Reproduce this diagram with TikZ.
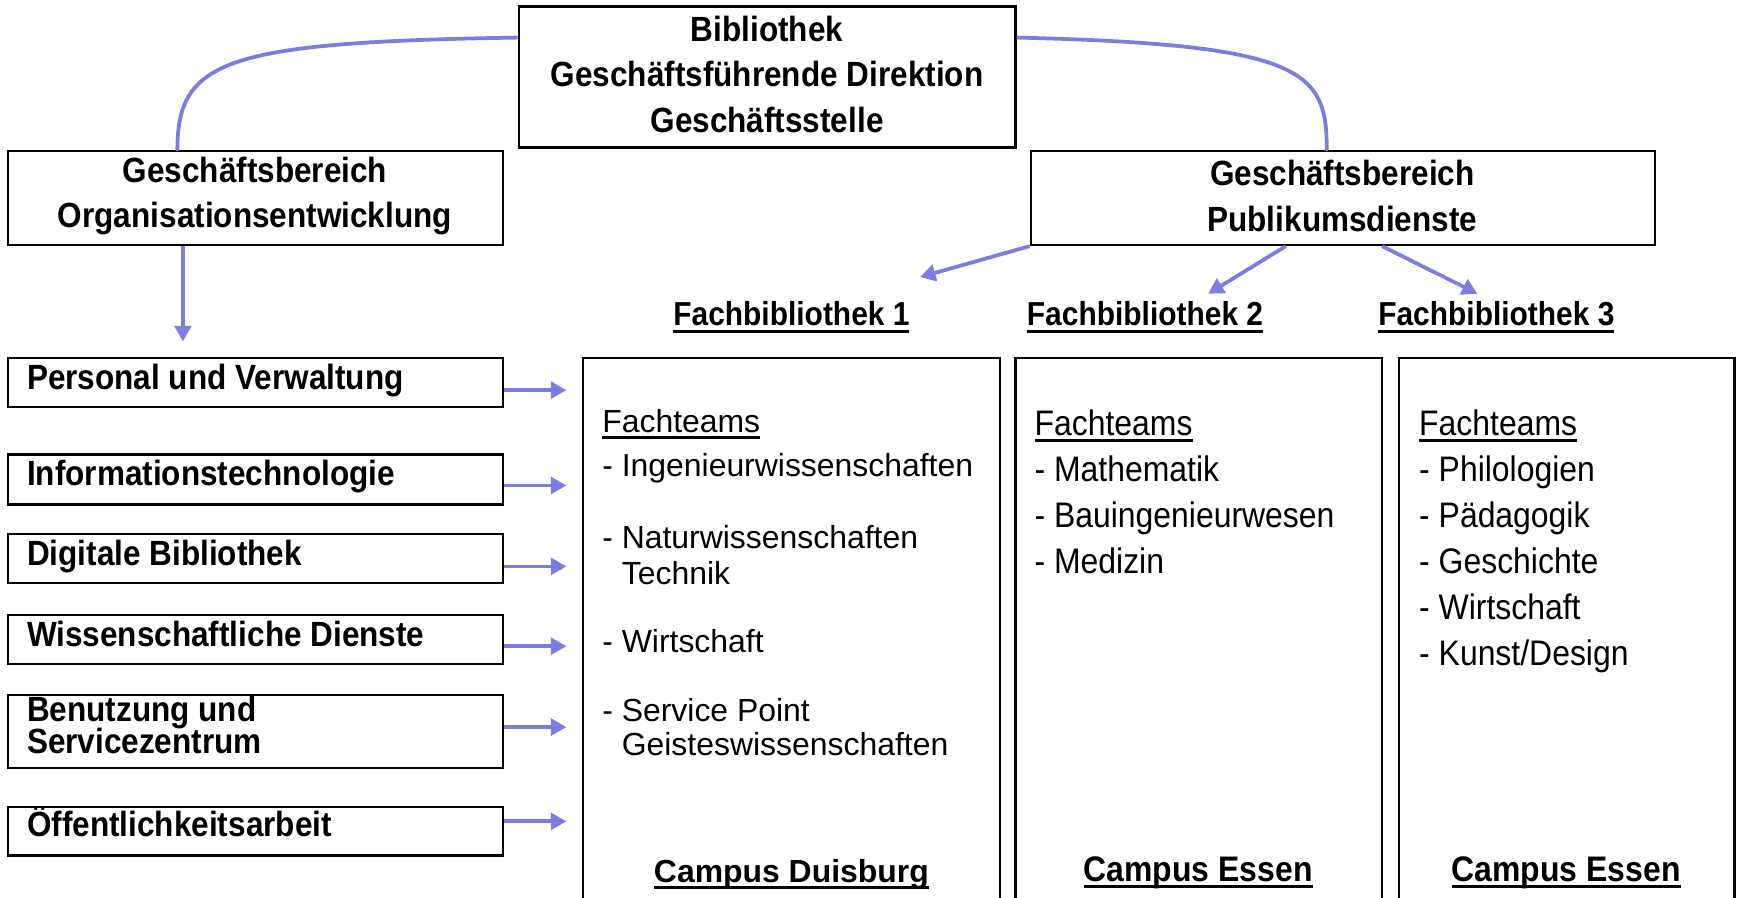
\documentclass[tikz,border=0pt]{standalone}
\usepackage{fontspec}
\setmainfont{Liberation Sans}
\newfontfamily\nf[FakeStretch=0.9]{Liberation Sans}
\usetikzlibrary{arrows.meta,calc,fit}
\definecolor{arrowc}{RGB}{125,125,225}
\newcommand{\myul}[1]{\setbox0\hbox{#1}\rlap{\vrule width \wd0 height -1.7pt depth 3.1pt}\box0}
\begin{document}
\begin{tikzpicture}[x=0.5pt,y=-0.5pt,
  box/.style={draw=black,line width=1.1pt,inner sep=0pt},
  hd/.style={font=\nf\bfseries\fontsize{15.8}{20.5}\selectfont,inner sep=0pt,align=center},
  lt/.style={font=\nf\bfseries\fontsize{15.8}{12}\selectfont,inner sep=0pt,anchor=base west},
  fb/.style={font=\nf\bfseries\fontsize{15}{18}\selectfont,inner sep=0pt,anchor=base},
  wt/.style={font=\fontsize{14.4}{16}\selectfont,inner sep=0pt,anchor=base west},
  nt/.style={font=\nf\fontsize{16}{20}\selectfont,inner sep=0pt,anchor=base west},
  arr/.style={draw=arrowc,line width=1.7pt,-{Triangle[length=7pt,width=7.5pt]}},
  cur/.style={draw=arrowc,line width=1.7pt}]
\useasboundingbox (0,0) rectangle (1568,810);
\begin{scope}
\clip (0,0) rectangle (1568,810);
% boxes
\node[box,fit={(468,6)(916,133)}] (top) {};
\node[box,fit={(7,136)(454,221)}] (gbo) {};
\node[box,fit={(930,136)(1493,221)}] (gbp) {};
\node[box,fit={(7,323)(454,367)}] (l1) {};
\node[box,fit={(7,410)(454,455)}] (l2) {};
\node[box,fit={(7,482)(454,526)}] (l3) {};
\node[box,fit={(7,555)(454,599)}] (l4) {};
\node[box,fit={(7,627)(454,693)}] (l5) {};
\node[box,fit={(7,728)(454,772)}] (l6) {};
\node[box,fit={(526,323)(902,830)}] (f1) {};
\node[box,fit={(916,323)(1247,830)}] (f2) {};
\node[box,fit={(1262,323)(1565,830)}] (f3) {};
\end{scope}
% headings
\node[hd] (toptxt) at (692,67) {Bibliothek\\Geschäftsführende Direktion\\Geschäftsstelle};
\node[hd] (gbotxt) at (230,177) {Geschäftsbereich\\Organisationsentwicklung};
\node[hd] (gbptxt) at (1211,177) {Geschäftsbereich\\Publikumsdienste};
% left column texts
\node[lt] (t1) at (24,351) {Personal und Verwaltung};
\node[lt] (t2) at (24,438) {Informationstechnologie};
\node[lt] (t3) at (24,510) {Digitale Bibliothek};
\node[lt] (t4) at (24,583) {Wissenschaftliche Dienste};
\node[lt] (t5) at (24,651) {Benutzung und};
\node[lt] (t5b) at (24,680) {Servicezentrum};
\node[lt] (t6) at (24,755) {Öffentlichkeitsarbeit};
% Fachbibliothek labels
\node[fb] (fb1) at (714,294) {\myul{Fachbibliothek 1}};
\node[fb] (fb2) at (1033,294) {\myul{Fachbibliothek 2}};
\node[fb] (fb3) at (1350,294) {\myul{Fachbibliothek 3}};
% box 1 content
\node[wt] (a0) at (543,390) {\myul{Fachteams}};
\node[wt] (a1) at (543,430) {- Ingenieurwissenschaften};
\node[wt] (a2) at (543,495) {- Naturwissenschaften};
\node[wt] (a2b) at (543,527) {\phantom{- }Technik};
\node[wt] (a3) at (543,589) {- Wirtschaft};
\node[wt] (a4) at (543,651) {- Service Point};
\node[wt] (a4b) at (543,682) {\phantom{- }Geisteswissenschaften};
\node[font=\bfseries\fontsize{14.4}{16}\selectfont,inner sep=0pt,anchor=base] (c1) at (714,796) {\myul{Campus Duisburg}};
% box 2 content
\node[nt] (b0) at (933,393) {\myul{Fachteams}};
\foreach \t [count=\i] in {- Mathematik,- Bauingenieurwesen,- Medizin}
  \node[nt] (b\i) at (933,{393+41.5*\i}) {\t};
\node[font=\nf\bfseries\fontsize{16}{18}\selectfont,inner sep=0pt,anchor=base] (c2) at (1081,795) {\myul{Campus Essen}};
% box 3 content
\node[nt] (d0) at (1280,393) {\myul{Fachteams}};
\foreach \t [count=\i] in {- Philologien,- Pädagogik,- Geschichte,- Wirtschaft,- Kunst/Design}
  \node[nt] (d\i) at (1280,{393+41.5*\i}) {\t};
\node[font=\nf\bfseries\fontsize{16}{18}\selectfont,inner sep=0pt,anchor=base] (c3) at (1413,795) {\myul{Campus Essen}};
% curves from top box
\coordinate (tl) at ($(top.north west)+(0,29)$);
\coordinate (tr) at ($(top.north east)+(0,29)$);
\coordinate (gl) at (160,136);
\coordinate (gr) at (1197,136);
\draw[cur] (tl) .. controls (200,38) and (160,55) .. (gl);
\draw[cur] (tr) .. controls (1180,40) and (1197,65) .. (gr);
% down arrow
\coordinate (dv) at (165,308);
\draw[arr] (gbo.south -| dv) -- (dv);
% arrows from Publikumsdienste
\coordinate (p1) at (830,250);
\coordinate (p2) at (1090,265);
\coordinate (p3) at (1333,265);
\draw[arr] (gbp.south west) -- (p1);
\draw[arr] (gbp.south -| 1160,0) -- (p2);
\draw[arr] (gbp.south -| 1247,0) -- (p3);
% arrows from left column
\foreach \n/\yy in {l1/352,l2/438,l3/511,l4/583,l5/656,l6/741}{
  \coordinate (e\n) at (511,\yy);
  \draw[arr] (\n.east |- e\n) -- (e\n);
}
\end{tikzpicture}
\end{document}
